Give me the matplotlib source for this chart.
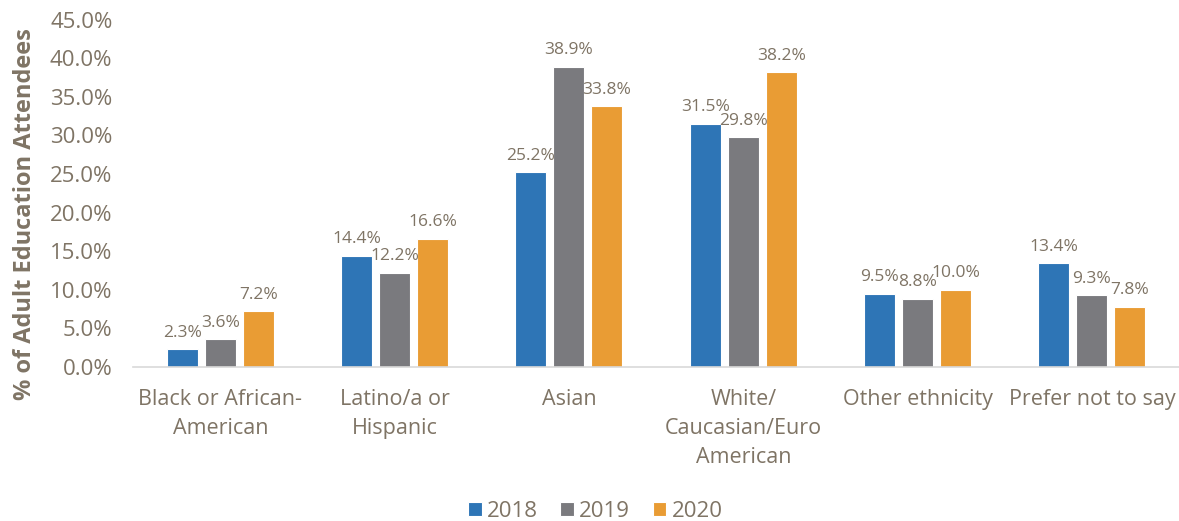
import numpy as np
import matplotlib
matplotlib.use("Agg")
import matplotlib.pyplot as plt

categories = ["Black or African-\nAmerican", "Latino/a or\nHispanic", "Asian",
              "White/\nCaucasian/Euro\nAmerican", "Other ethnicity", "Prefer not to say"]
years = ["2018", "2019", "2020"]
vals_2018 = [2.3, 14.4, 25.2, 31.5, 9.5, 13.4]
vals_2019 = [3.6, 12.2, 38.9, 29.8, 8.8, 9.3]
vals_2020 = [7.2, 16.6, 33.8, 38.2, 10.0, 7.8]
colors = ["#2E75B6", "#7A7A7E", "#E99C34"]

txt = "#7F7465"
plt.rcParams['font.family'] = ['Open Sans', 'DejaVu Sans']

fig = plt.figure(figsize=(11.79, 5.21), dpi=100)
ax = fig.add_axes([0.113, 0.296, 0.887, 0.666])

x = np.arange(len(categories))
step = 0.218
width = 0.178
for i, (vals, yr) in enumerate(zip([vals_2018, vals_2019, vals_2020], years)):
    pos = x + (i - 1) * step
    ax.bar(pos, vals, width, color=colors[i], edgecolor="white", linewidth=0.8, label=yr, zorder=2)
    for p, v in zip(pos, vals):
        ax.text(p, v + 1.1, f"{v:.1f}%", ha="center", va="bottom", fontsize=12.5, color=txt)

ax.set_xlim(-0.5, len(categories) - 0.5)
ax.set_ylim(0, 45)
ax.set_yticks(np.arange(0, 46, 5))
ax.set_yticklabels([f"{t:.1f}%" for t in np.arange(0, 46, 5)], fontsize=16, color=txt)
ax.set_xticks(x)
ax.set_xticklabels(categories, fontsize=15.5, color=txt, linespacing=1.5)
ax.tick_params(axis="both", length=0)
ax.tick_params(axis="x", pad=16)
ax.tick_params(axis="y", pad=15)
for s in ["top", "right", "left"]:
    ax.spines[s].set_visible(False)
ax.spines["bottom"].set_color("#D9D9D9")
ax.spines["bottom"].set_linewidth(1.2)

ax.set_ylabel("% of Adult Education Attendees", fontsize=17, fontweight="bold", color=txt)
ax.yaxis.set_label_coords(-0.092, 0.44)

fig.legend(loc="lower center", bbox_to_anchor=(0.505, -0.04), ncol=3, frameon=False,
           fontsize=16, labelcolor=txt, handlelength=0.6, handleheight=0.6,
           handletextpad=0.25, columnspacing=1.0)

fig.savefig("out.png", dpi=100)
